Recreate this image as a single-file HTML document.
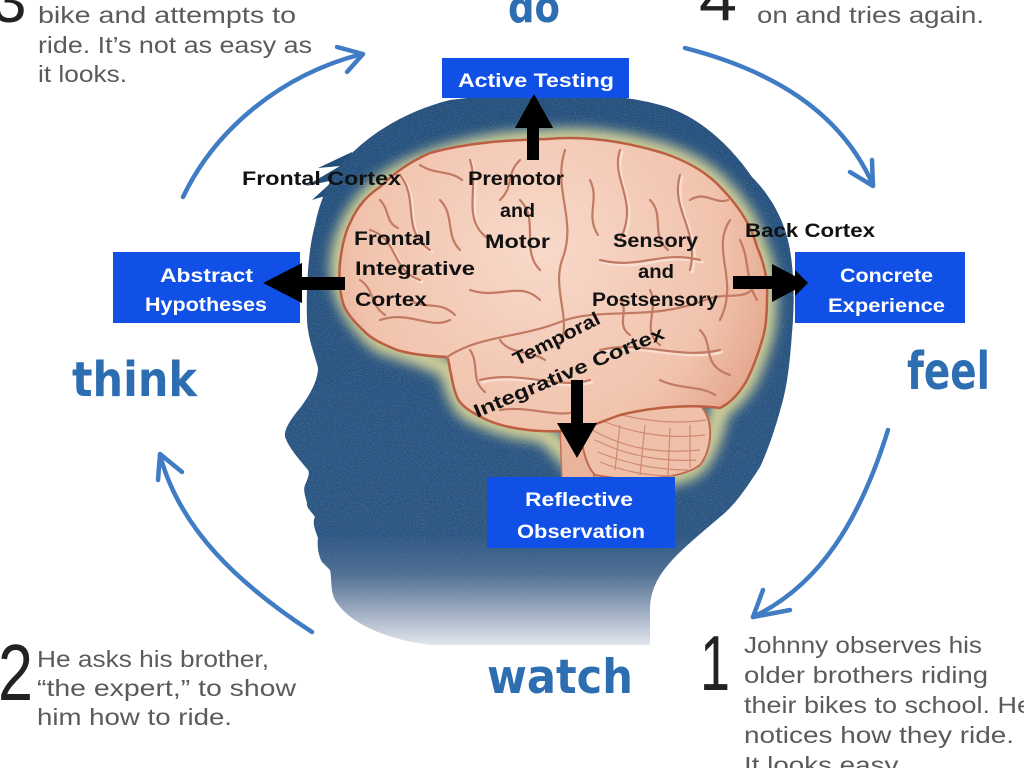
<!DOCTYPE html>
<html><head><meta charset="utf-8"><style>
html,body{margin:0;padding:0;background:#fff;width:1024px;height:768px;overflow:hidden}
svg{display:block}
.g{font-family:"Liberation Sans",sans-serif;fill:#5b5b5b;font-size:23px}
.b{font-family:"DejaVu Sans","Liberation Sans",sans-serif;font-weight:bold;fill:#2d6db2}
.l{font-family:"Liberation Sans",sans-serif;font-weight:bold;fill:#111;font-size:19px}
.w{font-family:"Liberation Sans",sans-serif;font-weight:bold;fill:#fff;font-size:19px}
</style></head><body>
<svg width="1024" height="768" viewBox="0 0 1024 768" xmlns="http://www.w3.org/2000/svg">
<defs>
<linearGradient id="hg" gradientUnits="userSpaceOnUse" x1="0" y1="94" x2="0" y2="645">
<stop offset="0" stop-color="#234f7b"/>
<stop offset="0.80" stop-color="#2a5581"/>
<stop offset="0.87" stop-color="#4f6d92"/>
<stop offset="0.93" stop-color="#93a4bb"/>
<stop offset="1" stop-color="#e2e6ec"/>
</linearGradient>
<linearGradient id="mg" gradientUnits="userSpaceOnUse" x1="0" y1="94" x2="0" y2="645">
<stop offset="0" stop-color="#fff"/>
<stop offset="0.78" stop-color="#fff"/>
<stop offset="0.95" stop-color="#000"/>
</linearGradient>
<mask id="nm"><rect x="0" y="0" width="1024" height="768" fill="url(#mg)"/></mask>
<radialGradient id="bg" gradientUnits="userSpaceOnUse" cx="540" cy="250" r="260">
<stop offset="0" stop-color="#f8d9ca"/>
<stop offset="0.7" stop-color="#f1c3ad"/>
<stop offset="1" stop-color="#e2a288"/>
</radialGradient>
<filter id="blur" x="-20%" y="-20%" width="140%" height="140%"><feGaussianBlur stdDeviation="6"/></filter>
<filter id="nz" x="0" y="0" width="100%" height="100%">
<feTurbulence type="fractalNoise" baseFrequency="0.9" numOctaves="2" seed="3" result="t"/>
<feColorMatrix in="t" type="matrix" values="0 0 0 0 0.45  0 0 0 0 0.6  0 0 0 0 0.75  0 0 0 1.2 -0.55" result="n"/>
<feComposite in="n" in2="SourceGraphic" operator="in"/>
</filter>
<clipPath id="hc"><path d="M560,94 C600,94 640,98 667,107 C700,118 730,145 752,177 C770,195 785,220 790,250 C795,280 794,310 792,333 C790,360 788,380 783,400 C775,430 768,450 760,467 C745,490 735,505 720,517 C705,530 680,550 668,565 C655,580 650,595 650,610 L650,645 L430,645 C390,640 350,625 335,600 C330,590 332,578 330,570 L322,562 C318,555 317,545 318,538 C315,530 312,522 315,517 C312,512 306,508 307,503 C305,495 303,490 305,485 C308,478 310,473 308,470 C300,460 290,450 285,437 C284,428 292,418 300,408 C310,395 318,380 318,368 C315,355 308,340 307,320 C306,290 308,250 315,225 C320,200 330,175 350,155 C375,130 410,110 450,100 C490,95 530,94 560,94 Z"/></clipPath>
</defs>

<!-- top-left partial text -->
<text x="-8" y="22" font-family="Liberation Sans,sans-serif" font-size="62" fill="#222">3</text>
<text class="g" x="38" y="23" textLength="258" lengthAdjust="spacingAndGlyphs">bike and attempts to</text>
<text class="g" x="38" y="53" textLength="274" lengthAdjust="spacingAndGlyphs">ride. It’s not as easy as</text>
<text class="g" x="38" y="82" textLength="89" lengthAdjust="spacingAndGlyphs">it looks.</text>

<!-- top right -->
<text x="699" y="20" font-family="Liberation Sans,sans-serif" font-size="62" fill="#222" textLength="38" lengthAdjust="spacingAndGlyphs">4</text>
<text class="g" x="757" y="23" textLength="227" lengthAdjust="spacingAndGlyphs">on and tries again.</text>

<!-- do -->
<text class="b" x="508" y="22" font-size="44" textLength="52" lengthAdjust="spacingAndGlyphs">do</text>

<!-- blue cycle arrows -->
<g fill="none" stroke="#3f7cc3" stroke-width="4.5" stroke-linecap="round" stroke-linejoin="round">
<path d="M183,197 C215,130 280,75 362,54"/>
<path d="M337,47 L363,54 L347,72"/>
<path d="M685,48 C770,70 840,110 873,185"/>
<path d="M850,172 L873,186 L872,160"/>
<path d="M888,430 C860,520 820,585 753,617"/>
<path d="M763,590 L753,617 L790,610"/>
<path d="M312,632 C240,585 180,530 160,455"/>
<path d="M158,480 L160,454 L182,472"/>
</g>

<!-- head -->
<rect x="270" y="90" width="540" height="560" fill="url(#hg)" clip-path="url(#hc)"/>
<polygon fill="#234f7b" points="352,152 318,168 340,166 306,186 334,180 312,200 338,192 330,215 345,190"/>
<g clip-path="url(#hc)" mask="url(#nm)">
<rect x="270" y="90" width="540" height="560" fill="#234f7b" filter="url(#nz)" opacity="0.6"/>
</g>

<!-- halo -->
<g filter="url(#blur)" opacity="0.95">
<path fill="none" stroke="#d9d699" stroke-width="20" d="M547,139 C580,136 620,140 663,153 C690,162 710,175 723,190 C742,210 752,228 757,247 C765,265 768,282 767,297 C767,315 766,327 763,337 C758,355 753,368 747,380 C740,392 732,402 720,408 C712,440 705,460 690,470 C660,482 620,482 595,475 C570,470 560,440 540,432 C510,430 487,420 470,412 C460,405 452,385 450,370 C425,356 397,350 380,343 C350,318 339,290 340,263 C342,233 358,205 380,187 C410,162 470,142 547,139 Z"/>
</g>

<!-- brain stem and cerebellum -->
<path fill="#e9b39c" stroke="#c27158" stroke-width="1.5" d="M560,426 L592,426 L594,482 L562,482 Z"/>
<path fill="#efc1aa" stroke="#c06a50" stroke-width="2" d="M580,420 C600,405 650,400 700,405 C715,420 712,450 700,465 C680,480 630,482 595,475 C585,465 580,440 580,420 Z"/>
<g fill="none" stroke="#cf8a70" stroke-width="1.2">
<path d="M592,430 C620,445 650,455 700,450"/>
<path d="M595,440 C625,455 660,462 696,460"/>
<path d="M598,452 C630,465 660,470 688,470"/>
<path d="M600,462 C625,472 650,476 672,476"/>
<path d="M600,420 C630,432 665,440 705,435"/>
<path d="M610,412 C640,420 670,425 706,420"/>
<path d="M620,425 L615,470"/><path d="M645,425 L640,475"/><path d="M670,428 L668,476"/><path d="M690,425 L690,468"/>
</g>

<!-- cerebrum -->
<path fill="url(#bg)" stroke="#bb5e42" stroke-width="2.5" d="M547,139 C580,136 620,140 663,153 C690,162 710,175 723,190 C742,210 752,228 757,247 C765,265 768,282 767,297 C767,315 766,327 763,337 C758,355 753,368 747,380 C740,392 732,402 720,408 C700,405 660,405 620,415 C600,422 585,430 563,431 C540,432 510,430 487,420 C470,412 460,405 457,397 C452,385 452,376 450,370 C449,362 448,358 447,357 C425,356 410,354 397,350 C380,343 370,338 363,330 C350,318 345,310 343,303 C339,290 339,275 340,263 C342,245 345,233 350,223 C358,205 368,195 380,187 C395,172 410,162 430,153 C470,142 510,140 547,139 Z"/>
<!-- gyri highlights -->
<g fill="none" stroke="#fbe4d8" stroke-width="3" stroke-linecap="round" opacity="0.8">
<path d="M402,177 C422,202 402,232 432,252"/>
<path d="M472,162 C482,192 462,222 492,242"/>
<path d="M622,152 C612,182 642,202 622,242"/>
<path d="M682,177 C672,212 702,232 692,272"/>
<path d="M372,232 C402,242 392,272 422,282"/>
<path d="M602,262 C642,272 662,252 702,262"/>
<path d="M482,382 C522,372 562,392 592,382"/>
<path d="M602,352 C642,342 682,362 722,352"/>
</g>
<g fill="none" stroke="#c27a62" stroke-width="2.2" stroke-linecap="round">
<path d="M565,150 C552,190 578,220 562,260 C552,290 572,320 560,345"/>
<path d="M447,357 C480,335 520,338 560,322 C600,306 650,322 705,300 C725,292 740,300 752,290"/>
<path d="M400,175 C420,200 400,230 430,250"/>
<path d="M470,160 C480,190 460,220 490,240"/>
<path d="M620,150 C610,180 640,200 620,240"/>
<path d="M680,175 C670,210 700,230 690,270"/>
<path d="M730,220 C710,250 740,280 720,320"/>
<path d="M370,230 C400,240 390,270 420,280"/>
<path d="M600,260 C640,270 660,250 700,260"/>
<path d="M470,290 C500,300 520,280 540,300"/>
<path d="M380,320 C410,310 430,330 450,320"/>
<path d="M600,350 C640,340 680,360 720,350"/>
<path d="M480,380 C520,370 560,390 590,380"/>
<path d="M500,410 C530,405 560,420 580,410"/>
<path d="M650,290 C660,310 640,330 660,345"/>
<path d="M520,200 C540,220 520,250 540,270"/>
<path d="M440,200 C455,215 445,235 460,250"/>
<path d="M360,280 C375,290 370,305 385,315"/>
<path d="M590,180 C600,200 585,215 598,235"/>
<path d="M650,200 C665,215 650,235 668,250"/>
<path d="M700,330 C715,345 700,365 730,375"/>
<path d="M660,380 C680,390 700,385 715,395"/>
<path d="M500,340 C510,355 530,350 545,360"/>
<path d="M740,240 C750,260 745,280 757,300"/>
<path d="M410,300 C425,310 440,300 455,315"/>
<path d="M520,160 C505,175 515,185 500,200"/>
<path d="M690,200 C705,190 715,205 728,200"/>
<path d="M420,165 C435,175 450,170 462,180"/>
<path d="M380,200 C390,210 385,222 398,228"/>
<path d="M620,300 C630,310 615,325 630,335"/>
<path d="M470,350 C480,365 470,380 485,392"/>
</g>

<!-- black arrows -->
<g fill="#000">
<polygon points="527,160 539,160 539,128 553,128 534,94 515,128 527,128"/>
<polygon points="345,277 345,290 302,290 302,303 263,283 302,263 302,277"/>
<polygon points="733,276 772,276 772,264 808,283 772,302 772,289 733,289"/>
<polygon points="571,380 583,380 583,423 597,423 577,458 557,423 571,423"/>
</g>

<!-- brain labels -->
<text class="l" x="242" y="185" textLength="159" lengthAdjust="spacingAndGlyphs">Frontal Cortex</text>
<text class="l" x="468" y="185" textLength="96" lengthAdjust="spacingAndGlyphs">Premotor</text>
<text class="l" x="500" y="217" textLength="35" lengthAdjust="spacingAndGlyphs">and</text>
<text class="l" x="485" y="248" textLength="65" lengthAdjust="spacingAndGlyphs">Motor</text>
<text class="l" x="354" y="245" textLength="77" lengthAdjust="spacingAndGlyphs">Frontal</text>
<text class="l" x="355" y="275" textLength="120" lengthAdjust="spacingAndGlyphs">Integrative</text>
<text class="l" x="355" y="306" textLength="72" lengthAdjust="spacingAndGlyphs">Cortex</text>
<text class="l" x="613" y="247" textLength="85" lengthAdjust="spacingAndGlyphs">Sensory</text>
<text class="l" x="638" y="278" textLength="36" lengthAdjust="spacingAndGlyphs">and</text>
<text class="l" x="592" y="306" textLength="126" lengthAdjust="spacingAndGlyphs">Postsensory</text>
<text class="l" x="745" y="237" textLength="130" lengthAdjust="spacingAndGlyphs">Back Cortex</text>
<text class="l" x="517" y="366" textLength="95" lengthAdjust="spacingAndGlyphs" transform="rotate(-27 517 366)">Temporal</text>
<text class="l" x="477" y="418" textLength="205" lengthAdjust="spacingAndGlyphs" transform="rotate(-23 477 418)">Integrative Cortex</text>

<!-- blue boxes -->
<g fill="#1150e6">
<rect x="442" y="58" width="187" height="40"/>
<rect x="113" y="252" width="187" height="71"/>
<rect x="795" y="252" width="170" height="71"/>
<rect x="487" y="477" width="188" height="71"/>
</g>
<polygon fill="#000" points="527,112 539,112 539,128 553,128 534,94 515,128 527,128"/>
<polygon fill="#000" points="302,263 302,303 263,283"/>
<polygon fill="#000" points="795,270 808,283 795,296"/>
<text class="w" x="458" y="87" textLength="156" lengthAdjust="spacingAndGlyphs">Active Testing</text>
<text class="w" x="160" y="282" textLength="93" lengthAdjust="spacingAndGlyphs">Abstract</text>
<text class="w" x="145" y="311" textLength="122" lengthAdjust="spacingAndGlyphs">Hypotheses</text>
<text class="w" x="840" y="282" textLength="93" lengthAdjust="spacingAndGlyphs">Concrete</text>
<text class="w" x="828" y="312" textLength="117" lengthAdjust="spacingAndGlyphs">Experience</text>
<text class="w" x="525" y="506" textLength="108" lengthAdjust="spacingAndGlyphs">Reflective</text>
<text class="w" x="517" y="538" textLength="128" lengthAdjust="spacingAndGlyphs">Observation</text>

<!-- handwritten words -->
<text class="b" x="72" y="396" font-size="48" textLength="125" lengthAdjust="spacingAndGlyphs">think</text>
<text class="b" x="907" y="389" font-size="52" textLength="83" lengthAdjust="spacingAndGlyphs">feel</text>
<text class="b" x="487" y="693" font-size="47" textLength="146" lengthAdjust="spacingAndGlyphs">watch</text>

<!-- bottom left -->
<text x="-2" y="700" font-family="Liberation Sans,sans-serif" font-size="80" fill="#222" textLength="35" lengthAdjust="spacingAndGlyphs">2</text>
<text class="g" x="37" y="667" textLength="232" lengthAdjust="spacingAndGlyphs">He asks his brother,</text>
<text class="g" x="37" y="696" textLength="259" lengthAdjust="spacingAndGlyphs">“the expert,” to show</text>
<text class="g" x="37" y="725" textLength="195" lengthAdjust="spacingAndGlyphs">him how to ride.</text>

<!-- bottom right -->
<text x="700" y="690" font-family="Liberation Sans,sans-serif" font-size="78" fill="#222" textLength="30" lengthAdjust="spacingAndGlyphs">1</text>
<text class="g" x="744" y="653" textLength="238" lengthAdjust="spacingAndGlyphs">Johnny observes his</text>
<text class="g" x="744" y="683" textLength="244" lengthAdjust="spacingAndGlyphs">older brothers riding</text>
<text class="g" x="744" y="713" textLength="288" lengthAdjust="spacingAndGlyphs">their bikes to school. He</text>
<text class="g" x="744" y="743" textLength="270" lengthAdjust="spacingAndGlyphs">notices how they ride.</text>
<text class="g" x="744" y="773" textLength="160" lengthAdjust="spacingAndGlyphs">It looks easy.</text>
</svg>
</body></html>
